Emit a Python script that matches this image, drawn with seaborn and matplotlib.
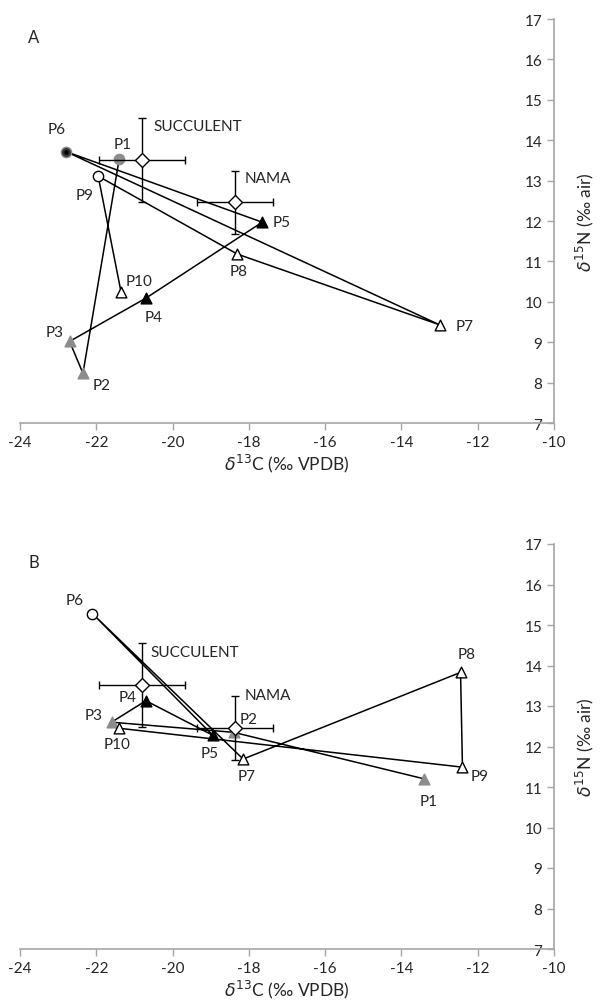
import numpy as np
import pandas as pd
import matplotlib
matplotlib.use('Agg')
import matplotlib.pyplot as plt
import seaborn as sns

sns.set_style('white')
plt.rcParams['font.family'] = ['Lato', 'DejaVu Sans']
plt.rcParams['mathtext.fontset'] = 'dejavusans'
plt.rcParams['axes.unicode_minus'] = False

# veri: bireyler P1..P10, iki panel
labels = ['P1', 'P2', 'P3', 'P4', 'P5', 'P6', 'P7', 'P8', 'P9', 'P10']
a_d13c = [-21.4, -22.35, -22.7, -20.7, -17.65, -22.8, -13.0, -18.3, -21.95, -21.35]
a_d15n = [13.53, 8.23, 9.02, 10.09, 11.97, 13.72, 9.43, 11.18, 13.11, 10.24]
b_d13c = [-13.4, -18.4, -21.6, -20.7, -18.95, -22.1, -18.15, -12.45, -12.4, -21.4]
b_d15n = [11.2, 12.35, 12.6, 13.13, 12.28, 15.28, 11.69, 13.83, 11.49, 12.45]

# referans gruplari (ortalama +/- sd)
ref_groups = ['SUCCULENT', 'NAMA']
ref_d13c = [-20.8, -18.37]
ref_d15n = [13.52, 12.46]
ref_sd13c = [1.13, 1.0]
ref_sd15n = [1.04, 0.79]

# isaret tipleri
a_type = ['gc', 'gt', 'gt', 'bt', 'bt', 'gd', 'wt', 'wt', 'wc', 'wt']
b_type = ['gt', 'gt', 'gt', 'bt', 'bt', 'wc', 'wt', 'wt', 'wt', 'wt']

GREY = '#8c8c8c'
TXT = '#262626'
styles = {
    'gc': dict(marker='o', color=GREY, edgecolor=GREY, s=55),
    'gt': dict(marker='^', color=GREY, edgecolor=GREY, s=60),
    'bt': dict(marker='^', color='black', edgecolor='black', s=60),
    'gd': dict(marker='o', color='#333333', edgecolor=GREY, s=55),
    'wt': dict(marker='^', color='white', edgecolor='black', s=60),
    'wc': dict(marker='o', color='white', edgecolor='black', s=55),
}

# etiket kaydirmalari (piksel)
a_off = [(3, 15), (19, -12), (-15, 9), (8, -19), (19, 0), (-9, 23), (25, -1), (1, -17), (-14, -19), (18, 11)]
b_off = [(4, -22), (15, 13), (-18, 7), (-18, 4), (-3, -18), (-18, 14), (3, -17), (6, 18), (17, -9), (-2, -16)]
a_ref_off = [(11, 34), (10, 24)]
b_ref_off = [(8, 33), (10, 33)]

fig = plt.figure(figsize=(6.01, 10.04), dpi=100)
ax_a = fig.add_axes([20 / 601, 1 - 424 / 1004, 534 / 601, 404 / 1004])
ax_b = fig.add_axes([20 / 601, 1 - 950 / 1004, 534 / 601, 405 / 1004])


def draw_panel(ax, xs, ys, types, offs, ref_offs, letter):
    df = pd.DataFrame({'d13C': xs, 'd15N': ys, 'label': labels, 'type': types})
    sns.lineplot(data=df, x='d13C', y='d15N', sort=False, color='black', lw=1.1,
                 estimator=None, ax=ax, zorder=2)
    for t, sub in df.groupby('type'):
        st = styles[t]
        sns.scatterplot(data=sub, x='d13C', y='d15N', marker=st['marker'], color=st['color'],
                        edgecolor=st['edgecolor'], s=st['s'], linewidth=1.0, ax=ax, zorder=3)
        if t == 'gd':
            sns.scatterplot(data=sub, x='d13C', y='d15N', marker='o', color='black',
                            edgecolor='black', s=8, ax=ax, zorder=4)
    ax.errorbar(ref_d13c, ref_d15n, xerr=ref_sd13c, yerr=ref_sd15n, fmt='D',
                mfc='white', mec='black', ms=7, mew=1.0, ecolor='black',
                elinewidth=1.0, capsize=3, capthick=1.0, zorder=5)
    for i, lab in enumerate(labels):
        ax.annotate(lab, (xs[i], ys[i]), xytext=offs[i], textcoords='offset pixels',
                    ha='center', va='center', fontsize=11, color=TXT)
    for i, g in enumerate(ref_groups):
        ax.annotate(g, (ref_d13c[i], ref_d15n[i]), xytext=ref_offs[i], textcoords='offset pixels',
                    ha='left', va='center', fontsize=11, color=TXT)

    ax.set_xlim(-24, -10)
    ax.set_ylim(7, 17)
    ax.set_xticks(range(-24, -9, 2))
    ax.set_yticks(range(7, 18))
    ax.spines['top'].set_visible(False)
    ax.spines['right'].set_visible(False)
    ax.spines['left'].set_position(('data', -10))
    for sp in ['left', 'bottom']:
        ax.spines[sp].set_color('#a6a6a6')
        ax.spines[sp].set_linewidth(1.2)
    ax.tick_params(axis='both', direction='out', length=5, width=1, color='#a6a6a6',
                   labelsize=11, labelcolor=TXT, left=True, bottom=True)
    ax.set_xlabel(r'$\delta^{13}$C (‰ VPDB)', fontsize=12.5, color=TXT, labelpad=2)
    ax.set_ylabel(r'$\delta^{15}$N (‰ air)', fontsize=12.5, color=TXT, labelpad=14)
    ax.yaxis.set_label_position('right')
    ax.patch.set_alpha(0)
    ax.grid(False)
    ax.text(0.026, 0.955, letter, transform=ax.transAxes, fontsize=12, color=TXT,
            ha='center', va='center')


draw_panel(ax_a, a_d13c, a_d15n, a_type, a_off, a_ref_off, 'A')
draw_panel(ax_b, b_d13c, b_d15n, b_type, b_off, b_ref_off, 'B')

plt.savefig('out.png', dpi=100)
